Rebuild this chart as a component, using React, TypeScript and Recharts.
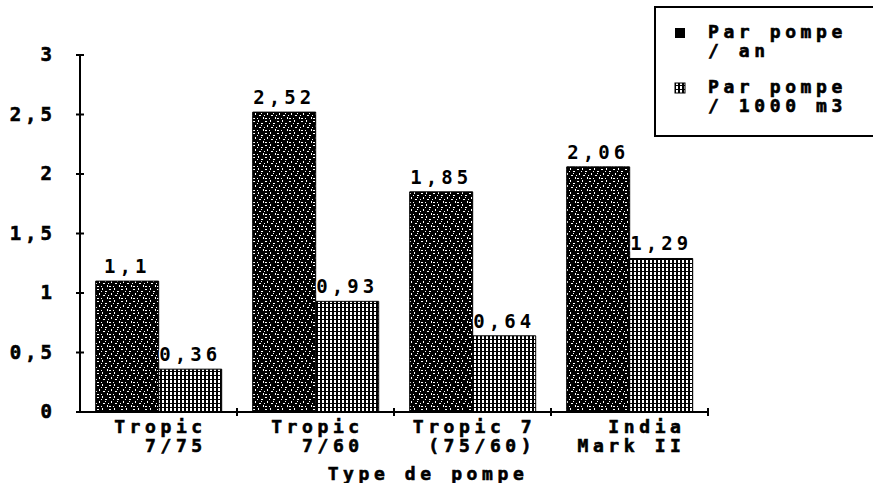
import { BarChart, Bar, XAxis, YAxis, LabelList, Label } from "recharts";

const categories = ["Tropic 7/75", "Tropic 7/60", "Tropic 7 (75/60)", "India Mark II"];
// tick label lines as printed (monospace, padded)
const catLines = [
    ["Tropic", "  7/75"],
    ["Tropic", "  7/60"],
    ["Tropic 7", " (75/60)"],
    ["  India", "Mark II"],
];
const parAn = [1.1, 2.52, 1.85, 2.06];
const par1000 = [0.36, 0.93, 0.64, 1.29];
const yTicks = [0, 0.5, 1, 1.5, 2, 2.5, 3];
const legendLines = [
    ["Par pompe", "/ an"],
    ["Par pompe", "/ 1000 m3"],
];

const data = categories.map((c, i) => ({ name: c, an: parAn[i], m3: par1000[i] }));

const font = {
    fontFamily: "'DejaVu Sans Mono', monospace",
    fontWeight: 700,
    fontSize: 19,
    letterSpacing: 4,
    stroke: "#000",
    strokeWidth: 0.6,
} as any;

const catFont = { ...font, fontSize: 18, letterSpacing: 4.6, whiteSpace: "pre" } as any;

const fmt = (v: number) => String(v).replace(".", ",");

const PLOT_LEFT = 80;
const PLOT_RIGHT = 708;
const band = (PLOT_RIGHT - PLOT_LEFT) / categories.length;

const CatTick = (props: any) => {
    const { x, y, index } = props;
    const lines = catLines[index] || [];
    return (
        <g>
            <line x1={x + band / 2} x2={x + band / 2} y1={y - 4} y2={y + 4} stroke="#000" strokeWidth={2} />
            <text x={x + 2} y={y + 21} textAnchor="middle" style={catFont} fill="#000">
                {lines.map((l, i) => (
                    <tspan key={i} x={x + 2} dy={i === 0 ? 0 : 19}>{l}</tspan>
                ))}
            </text>
        </g>
    );
};

const ValTick = (props: any) => {
    const { x, y, payload } = props;
    return (
        <g>
            <line x1={x - 4} x2={x + 4} y1={y} y2={y} stroke="#000" strokeWidth={2} />
            <text x={x - 24} y={y + 6} textAnchor="end" style={font} fill="#000">{fmt(payload.value)}</text>
        </g>
    );
};

const LegendBox = () => (
    <svg width={219} height={132} style={{ position: "absolute", left: 654, top: 6 }}>
        <rect x={1} y={1} width={240} height={129} fill="#fff" stroke="#000" strokeWidth={2} />
        <rect x={21} y={22} width={10} height={10} fill="#000" />
        <rect x={21} y={77} width={10} height={10} fill="url(#lightPat)" stroke="#000" strokeWidth={1} />
        {legendLines.map((ls, k) => (
            <text key={k} x={54} y={32 + k * 55} style={{ ...catFont }} fill="#000">
                {ls.map((l, i) => (
                    <tspan key={i} x={54} dy={i === 0 ? 0 : 19}>{l}</tspan>
                ))}
            </text>
        ))}
    </svg>
);

const labelStyle = { ...font, stroke: "#fff", strokeWidth: 3, paintOrder: "stroke" } as any;

const App = () => {
    return (
        <div style={{ position: "absolute", left: 0, top: 0, width: 873, height: 483, background: "#fff" }}>
            <BarChart
                width={873}
                height={483}
                data={data}
                margin={{ top: 55, right: 873 - PLOT_RIGHT, bottom: 0, left: 0 }}
                barCategoryGap="10%"
                barGap={0}
            >
                <defs>
                    <pattern id="darkPat" width="12" height="12" patternUnits="userSpaceOnUse">
                        <rect width="12" height="12" fill="#000" />
                        <rect x="1" y="1" width="2" height="1" fill="#fff" />
                        <rect x="6" y="0" width="1" height="2" fill="#fff" />
                        <rect x="9" y="3" width="2" height="1" fill="#fff" />
                        <rect x="3" y="5" width="1" height="2" fill="#fff" />
                        <rect x="7" y="7" width="2" height="1" fill="#fff" />
                        <rect x="11" y="9" width="1" height="2" fill="#fff" />
                        <rect x="1" y="10" width="2" height="1" fill="#fff" />
                        <rect x="5" y="3" width="1" height="1" fill="#fff" />
                        <rect x="0" y="7" width="1" height="1" fill="#fff" />
                        <rect x="5" y="10" width="1" height="1" fill="#fff" />
                        <rect x="9" y="5" width="1" height="1" fill="#fff" />
                    </pattern>
                    <pattern id="lightPat" width="4" height="4" patternUnits="userSpaceOnUse">
                        <rect width="4" height="4" fill="#fff" />
                        <rect x="0" y="0" width="2" height="4" fill="#000" />
                        <rect x="2" y="3" width="2" height="1" fill="#000" />
                    </pattern>
                </defs>
                <XAxis
                    dataKey="name"
                    height={71}
                    axisLine={{ stroke: "#000", strokeWidth: 2 }}
                    tickLine={false}
                    tickSize={0}
                    tickMargin={0}
                    tick={<CatTick />}
                    interval={0}
                >
                    <Label
                        value="Type de pompe"
                        position="insideBottom"
                        offset={3}
                        dx={34}
                        style={catFont}
                        fill="#000"
                    />
                </XAxis>
                <YAxis
                    width={PLOT_LEFT}
                    domain={[0, 3]}
                    ticks={yTicks}
                    axisLine={{ stroke: "#000", strokeWidth: 2 }}
                    tickLine={false}
                    tickSize={0}
                    tickMargin={0}
                    tick={<ValTick />}
                />
                <Bar dataKey="an" name="Par pompe / an" fill="url(#darkPat)" stroke="#000" strokeWidth={1} isAnimationActive={false}>
                    <LabelList dataKey="an" position="top" offset={8} formatter={(v: any) => fmt(v)} style={labelStyle} fill="#000" />
                </Bar>
                <Bar dataKey="m3" name="Par pompe / 1000 m3" fill="url(#lightPat)" stroke="#000" strokeWidth={1} isAnimationActive={false}>
                    <LabelList dataKey="m3" position="top" offset={8} formatter={(v: any) => fmt(v)} style={labelStyle} fill="#000" />
                </Bar>
            </BarChart>
            <LegendBox />
        </div>
    );
};

export default App;
